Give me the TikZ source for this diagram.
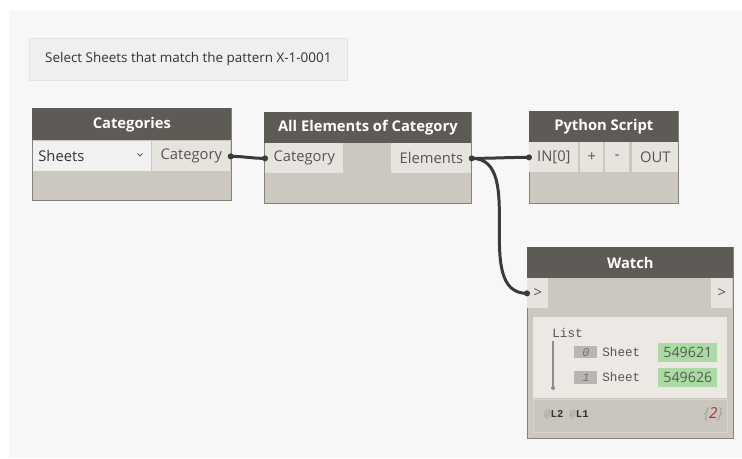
\documentclass[tikz,border=0pt]{standalone}
\usepackage{fontspec}
\setmainfont{Open Sans}
\newfontfamily\monofam{Liberation Mono}
\definecolor{canvas}{HTML}{F7F7F7}
\definecolor{notefill}{HTML}{EFEFEF}
\definecolor{noteedge}{HTML}{E3E3E3}
\definecolor{hdrfill}{HTML}{5E5A56}
\definecolor{bodyfill}{HTML}{CCC8C0}
\definecolor{portfill}{HTML}{E7E4DF}
\definecolor{dropfill}{HTML}{F1F1F1}
\definecolor{edge}{HTML}{85817B}
\definecolor{wirec}{HTML}{3A3A3A}
\definecolor{porttext}{HTML}{555555}
\definecolor{panelfill}{HTML}{ECE9E4}
\definecolor{footfill}{HTML}{CAC6BE}
\definecolor{footedge}{HTML}{D9D5CE}
\definecolor{idxfill}{HTML}{B9B6B1}
\definecolor{valfill}{HTML}{A9DBA3}
\definecolor{atgray}{HTML}{A5A29D}
\definecolor{countred}{HTML}{B0302E}
\newcommand{\pxu}{0.02cm}
\tikzset{
  wh/.style 2 args={minimum width=#1*\pxu, minimum height=#2*\pxu},
  nodebody/.style={anchor=north west, inner sep=0pt, fill=bodyfill, draw=edge, line width=0.5pt},
  header/.style={anchor=north west, inner sep=0pt, fill=hdrfill, text=white,
    font=\bfseries\fontsize{8.4}{10}\selectfont},
  port/.style={anchor=north west, inner sep=0pt, fill=portfill, text=porttext,
    font=\fontsize{8.4}{10}\selectfont},
  dropbox/.style={anchor=north west, inner xsep=5*\pxu, inner ysep=0pt, fill=dropfill,
    text=black!80, align=left, font=\fontsize{8.4}{10}\selectfont},
  notebox/.style={anchor=north west, inner sep=0pt, fill=notefill,
    draw=noteedge, text=black!80, font=\fontsize{7.65}{9}\selectfont},
  monotext/.style={inner sep=0pt, text=porttext, font=\monofam\fontsize{7.2}{9}\selectfont},
  idx/.style={anchor=north west, inner sep=0pt, fill=idxfill, text=black!55,
    font=\monofam\itshape\fontsize{6.8}{8}\selectfont},
  val/.style={anchor=north west, inner sep=0pt, fill=valfill, text=black!65,
    font=\fontsize{8.1}{10}\selectfont},
  wire/.style={draw=wirec, line width=1.7pt}
}
\begin{document}
\begin{tikzpicture}[x=\pxu, y=-\pxu]
  \fill[white] (0,0) rectangle (742,458);
  \fill[canvas] (9,11) rectangle (742,458);

  \node[notebox, wh={318}{42}] (note) at (29,38)
    {Select Sheets that match the pattern X-1-0001};

  \node[nodebody, wh={199}{92}] (cat) at (32,108) {};
  \node[header, wh={199}{32}] (catHead) at (32,108) {Categories};
  \node[dropbox, text width=108*\pxu, minimum height=30*\pxu] (catDrop) at (33,141) {Sheets};
  \draw[porttext, line width=0.5pt] (137.5,153.5) -- (140,156) -- (142.5,153.5);
  \node[port, wh={78}{30}] (catOut) at (152,141) {Category};

  \node[nodebody, wh={207}{91}] (allElem) at (264,112) {};
  \node[header, wh={207}{31}] (allElemHead) at (264,112) {All Elements of Category};
  \node[port, wh={78}{30}] (allElemIn) at (265,143) {Category};
  \node[port, wh={80}{30}] (allElemOut) at (391,143) {Elements};

  \node[nodebody, wh={149}{92}] (py) at (529,111) {};
  \node[header, wh={149}{31}] (pyHead) at (529,111) {Python Script};
  \node[port, wh={49}{30}] (pyIn) at (529,142) {IN[0]};
  \node[port, wh={23}{30}] (pyAdd) at (580,142) {+};
  \node[port, wh={24}{30}] (pySub) at (605,142) {-};
  \node[port, wh={46}{30}] (pyOut) at (632,142) {OUT};

  \node[nodebody, wh={206}{191}] (watch) at (527,247) {};
  \node[header, wh={206}{31}] (watchHead) at (527,247) {Watch};
  \node[port, wh={21}{30}] (watchIn) at (527,278) {>};
  \node[port, wh={21}{30}] (watchOut) at (711,278) {>};
  \node[anchor=north west, inner sep=0pt, fill=panelfill, wh={194}{81}] (watchPanel) at (533,317) {};
  \node[anchor=north west, inner sep=0pt, fill=footfill, draw=footedge, line width=0.8pt,
    wh={194}{33}] (watchFoot) at (533,399) {};
  \node[monotext, anchor=west] (listLabel) at (552,333) {List};
  \draw[black!45, line width=0.6pt] (553,341) -- (553,387);
  \fill[black!45] (553,388) circle (2*\pxu);
  \node[idx, wh={23}{12}] (idxA) at (574,346) {0};
  \node[monotext, anchor=west] (sheetA) at (602,352) {Sheet};
  \node[val, wh={59}{19}] (valA) at (658,343) {549621};
  \node[idx, wh={23}{13}] (idxB) at (574,371) {1};
  \node[monotext, anchor=west] (sheetB) at (602,377) {Sheet};
  \node[val, wh={59}{19}] (valB) at (658,368) {549626};
  \node[anchor=west, inner sep=0pt, text=black!80, font=\monofam\bfseries\fontsize{6}{7}\selectfont]
    (levels) at (544,414) {\textcolor{atgray}{@}L2 \textcolor{atgray}{@}L1};
  \node[anchor=east, inner sep=0pt, text=atgray, font=\itshape\fontsize{8.6}{10}\selectfont]
    (count) at (723,414) {\{\textcolor{countred}{2}\}};

  \begin{scope}[wire]
    \draw (catOut.east) to[out=0, in=180] (allElemIn.west);
    \draw (allElemOut.east) to[out=0, in=180] (pyIn.west);
    \draw (allElemOut.east) .. controls +(56,0) and +(-56,0) .. (watchIn.west);
  \end{scope}
  \fill[wirec] (catOut.east) circle (3*\pxu);
  \fill[wirec] (allElemIn.west) circle (3*\pxu);
  \fill[wirec] (allElemOut.east) circle (3*\pxu);
  \fill[wirec] (pyIn.west) circle (3*\pxu);
  \fill[wirec] (watchIn.west) circle (3*\pxu);
\end{tikzpicture}
\end{document}
